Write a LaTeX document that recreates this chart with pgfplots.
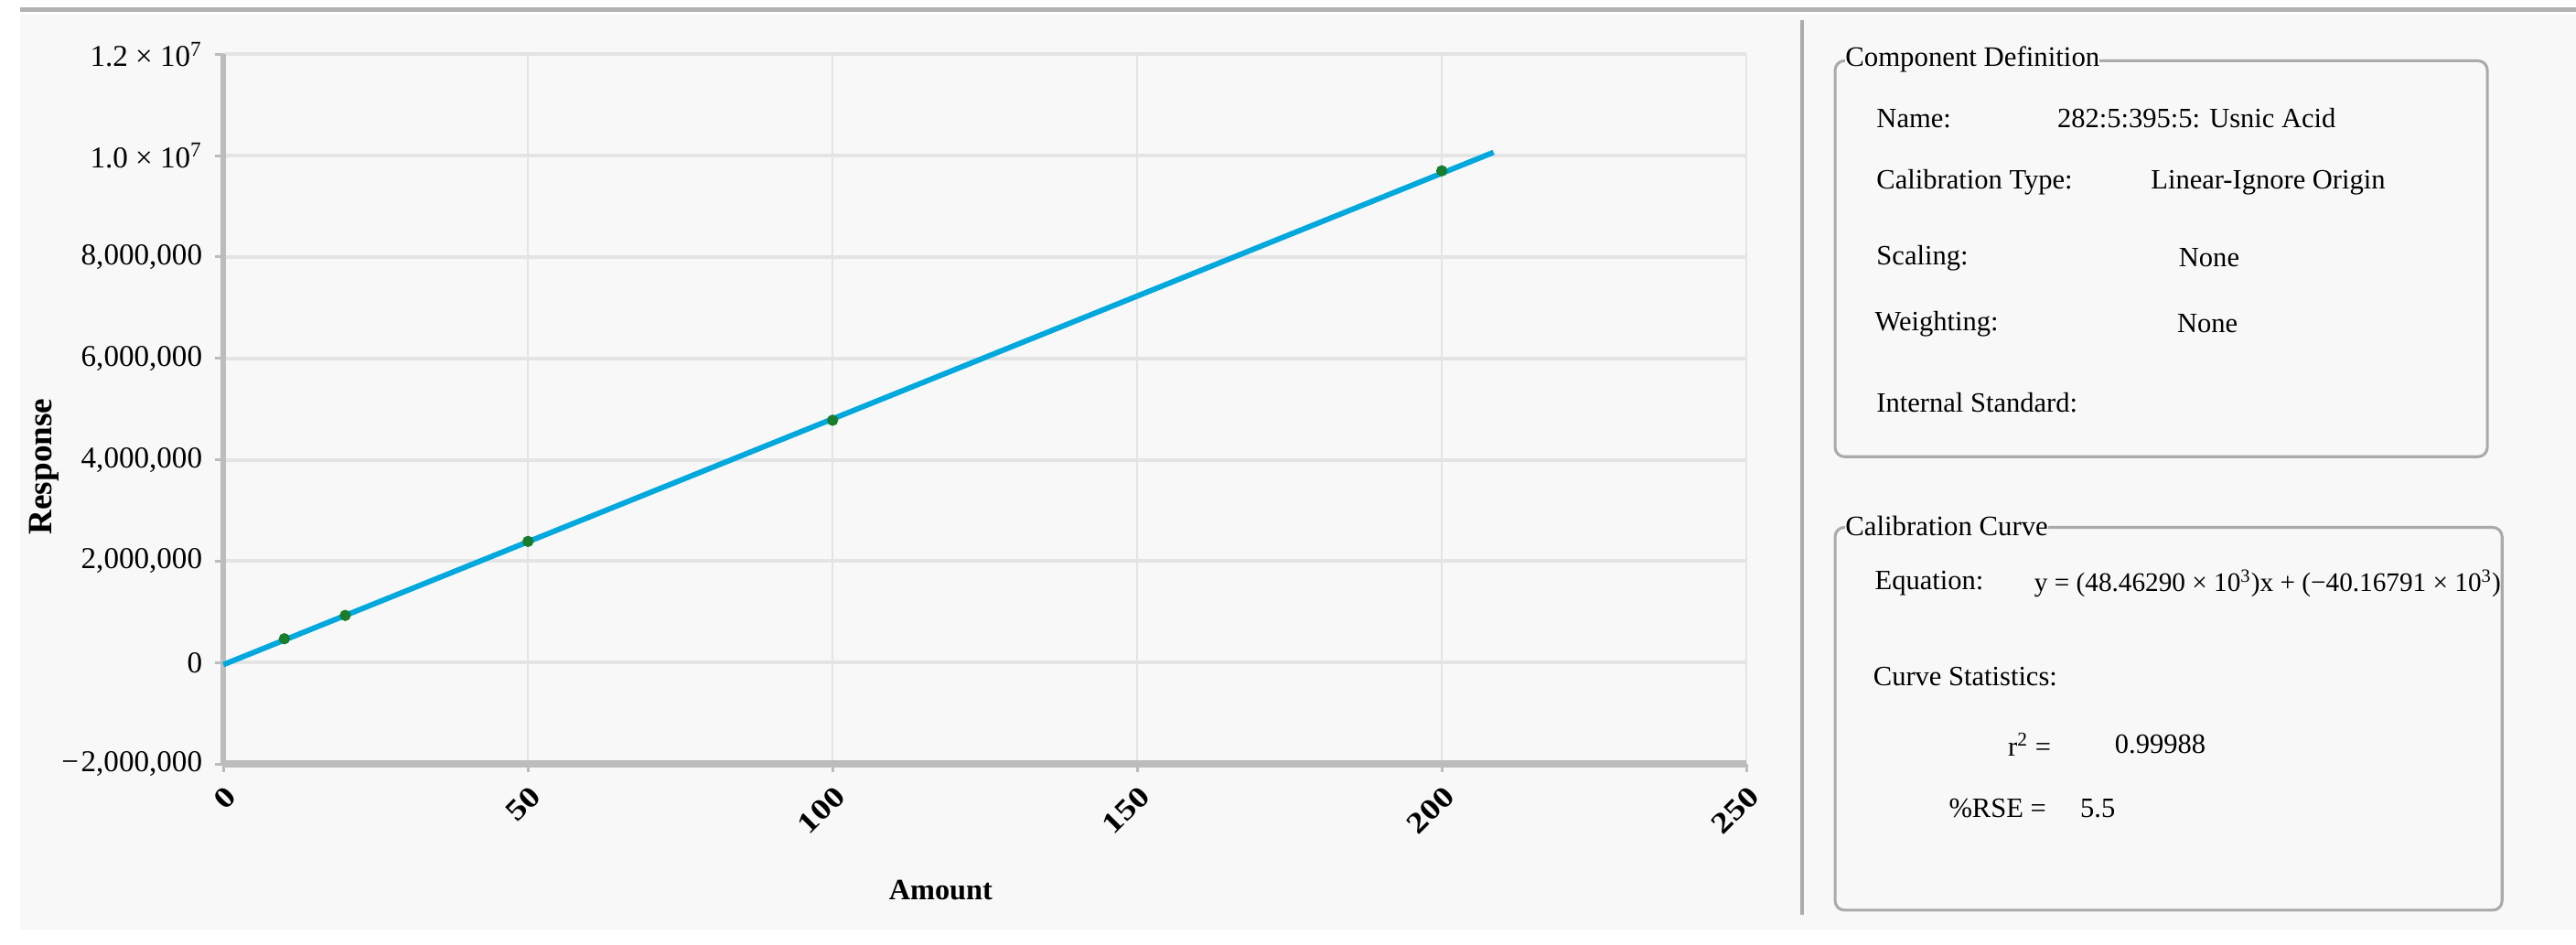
\documentclass[border=0pt]{standalone}
\usepackage{fontspec}
\setmainfont{Liberation Serif}
\newfontfamily\axfont{Liberation Serif}[FakeStretch=1.2]
\usepackage{pgfplots}
\pgfplotsset{compat=1.18}

\definecolor{bgc}{RGB}{248,248,248}
\definecolor{fitc}{RGB}{0,168,222}
\definecolor{ptc}{RGB}{25,125,45}
\definecolor{axc}{RGB}{188,188,188}
\definecolor{gridc}{RGB}{228,228,228}
\definecolor{boxc}{RGB}{170,170,170}

\tikzset{lab/.style={anchor=west, inner sep=0pt, font=\fontsize{11.9}{13}\selectfont},
  ttl/.style={anchor=west, inner sep=0pt, fill=bgc, font=\fontsize{12}{13}\selectfont}}

\begin{document}
\begin{tikzpicture}
\begin{scope}[x=0.7pt,y=-0.7pt]
\path[use as bounding box, fill=white] (0,0) rectangle (1568,575);
\fill[bgc] (12,9) rectangle (1568,566);
\draw[gray!60, line width=2pt] (12,6) -- (1568,6);
\draw[gray!65, line width=1.5pt] (1097,12) -- (1097,557);
\end{scope}

\begin{axis}[at={(95.2pt,-325.5pt)}, anchor=south west, scale only axis,
  width=648.9pt, height=302.4pt,
  xmin=0, xmax=250, ymin=-2000000, ymax=12000000,
  axis x line*=bottom, axis y line*=left,
  x axis line style={-, axc, line width=3pt},
  y axis line style={-, axc, line width=2.2pt},
  xtick={0,50,...,250},
  ytick={-2000000,0,2000000,4000000,6000000,8000000,10000000,12000000},
  yticklabels={{−\kern1pt2,000,000},{0},{2,000,000},{4,000,000},{6,000,000},{8,000,000},{1.0 × 10\textsuperscript{7}},{1.2 × 10\textsuperscript{7}}},
  xticklabels={0,50,100,150,200,250},
  scaled y ticks=false,
  tick align=outside, major tick length=3.5pt,
  tick style={axc, line width=1.2pt},
  grid=major,
  x grid style={gridc, line width=0.8pt},
  y grid style={gridc, line width=1.6pt},
  yticklabel style={anchor=east, xshift=-2pt, font=\fontsize{12.9}{14}\selectfont},
  xticklabel style={rotate=45, anchor=east, yshift=-8pt, font=\axfont\bfseries\fontsize{12.5}{14}\selectfont},
  xlabel={Amount}, ylabel={Response},
  xlabel style={at={(axis description cs:0.471,-0.178)}, anchor=center, font=\bfseries\fontsize{12.6}{14}\selectfont},
  ylabel style={at={(axis description cs:-0.1176,0.419)}, anchor=center, font=\bfseries\fontsize{14.5}{16}\selectfont},
  clip=false]
\addplot[fitc, line width=2.3pt, no marks] coordinates {(0,-40168) (208.5,10064000)};
\addplot[only marks, mark=*, mark size=2.2pt, mark options={fill=ptc, draw=ptc}] coordinates {(10,470000) (20,930000) (50,2390000) (100,4780000) (200,9700000)};
\end{axis}

\begin{scope}[x=0.7pt,y=-0.7pt]
% Component Definition panel
\draw[boxc, line width=1.2pt, rounded corners=4pt] (1117,37) rectangle (1514,278);
\node[ttl] at (1123,36) {Component Definition};
\node[lab] at (1142,72) {Name:};
\node[lab] at (1252,72) {282:5:395:5: Usnic Acid};
\node[lab] at (1309,111) {Linear-Ignore Origin};
\node[lab] at (1142,111) {Calibration Type:};
\node[lab] at (1142,157) {Scaling:};
\node[lab] at (1326,157) {None};
\node[lab] at (1141,197) {Weighting:};
\node[lab] at (1325,197) {None};
\node[lab] at (1142,245) {Internal Standard:};

% Calibration Curve panel
\draw[boxc, line width=1.2pt, rounded corners=4pt] (1117,321) rectangle (1523,554);
\node[ttl] at (1123,320) {Calibration Curve};
\node[lab] at (1141,355) {Equation:};
\node[lab, font=\fontsize{11.4}{13}\selectfont] at (1238,355) {y = (48.46290 × 10\textsuperscript{3})x + (−40.16791 × 10\textsuperscript{3})};
\node[lab] at (1140,412) {Curve Statistics:};
\node[lab] at (1222,453) {r\textsuperscript{2} =};
\node[lab] at (1287,453) {0.99988};
\node[lab] at (1186,492) {\%RSE =};
\node[lab] at (1266,492) {5.5};
\end{scope}
\end{tikzpicture}
\end{document}
